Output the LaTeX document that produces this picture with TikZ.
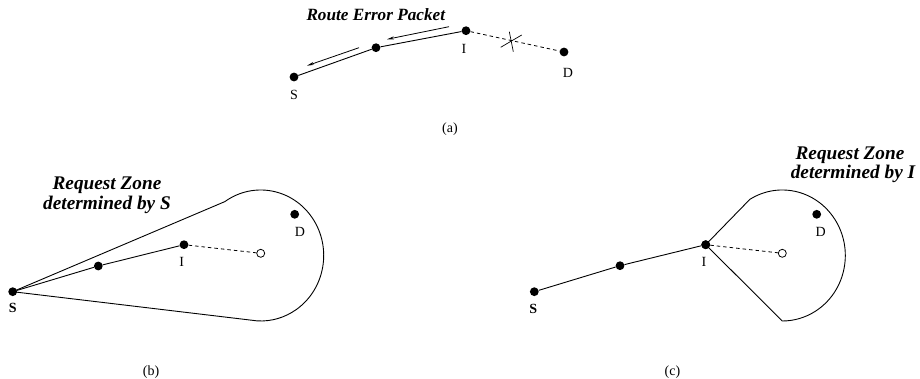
\documentclass[tikz,border=0pt]{standalone}
\usepackage{fontspec}
\setmainfont{Liberation Serif}
\usetikzlibrary{calc,arrows.meta}
\tikzset{
  dot/.style={circle,fill=black,inner sep=0pt,minimum size=8.8pt},
  hollow/.style={circle,draw=black,fill=white,line width=0.8pt,inner sep=0pt,minimum size=8pt},
  lbl/.style={anchor=base,inner sep=0pt,font=\fontsize{14}{16}\selectfont},
  blbl/.style={anchor=base,inner sep=0pt,font=\fontsize{14}{16}\selectfont\bfseries},
  title/.style={anchor=base,inner sep=0pt,font=\fontsize{17.2}{20}\selectfont\bfseries\itshape},
  ztitle/.style={anchor=base,inner sep=0pt,font=\fontsize{19.3}{20}\selectfont\bfseries\itshape},
  link/.style={line width=0.9pt},
  brk/.style={line width=0.8pt,dash pattern=on 3.5pt off 3pt},
  msg/.style={line width=0.8pt,-{Stealth[length=7pt,width=3pt]}},
  zone/.style={line width=0.9pt}
}
\begin{document}
\begin{tikzpicture}[x=1pt,y=1pt]
\useasboundingbox (0,0) rectangle (920,379);
% ---------- (a) ----------
\node[dot] (Sa) at (294,302) {};
\node[dot] (Ma) at (376,331.3) {};
\node[dot] (Ia) at (466,348.3) {};
\node[dot] (Da) at (564,327) {};
\draw[link] (Sa) -- (Ma) -- (Ia);
\draw[brk] (Ia) -- (Da);
\coordinate (x1) at (500.7,331.7);
\coordinate (x2) at (521.7,344);
\coordinate (x3) at (509.3,347.3);
\coordinate (x4) at (513.3,327.3);
\draw[line width=0.7pt] (x1) -- (x2);
\draw[line width=0.7pt] (x3) -- (x4);
\coordinate (a1s) at (449,352.3);
\coordinate (a1e) at (387,339.7);
\coordinate (a2s) at (359,331.3);
\coordinate (a2e) at (307,313.3);
\draw[msg] (a1s) -- (a1e);
\draw[msg] (a2s) -- (a2e);
\node[title] (rep) at (375.8,358.3) {Route Error Packet};
\node[lbl] (Sal) at (294,279) {S};
\node[lbl] (Ial) at (464,325.7) {I};
\node[lbl] (Dal) at (568,301.7) {D};
\node[lbl,anchor=center] (capa) at (450,250) {(a)};
% ---------- (b) ----------
\coordinate (Eb) at (260.7,123.5);
\draw[zone] (12.7,87.3) -- ($(Eb)+(124.6:63 and 65.5)$) arc[start angle=124.6,end angle=-93,x radius=63,y radius=65.5] -- cycle;
\node[dot] (Sb) at (12.7,87.3) {};
\node[dot] (Mb) at (98.3,113) {};
\node[dot] (Ib) at (184,134.3) {};
\node[hollow] (Hb) at (260.7,125.7) {};
\node[dot] (Db) at (294.7,164.7) {};
\draw[link] (Sb) -- (Mb) -- (Ib);
\draw[brk] (Ib) -- (Hb);
\node[blbl] (Sbl) at (12.7,66) {S};
\node[lbl] (Ibl) at (181.7,112.3) {I};
\node[lbl] (Dbl) at (300,142.3) {D};
\node[ztitle] (zb1) at (107,189.7) {Request Zone};
\node[ztitle] (zb2) at (107,169.7) {determined by S};
\node[lbl,anchor=center] (capb) at (151,7) {(b)};
% ---------- (c) ----------
\coordinate (Ec) at (782.3,123.5);
\node[dot] (Sc) at (534.3,87.3) {};
\node[dot] (Mc) at (620,113.3) {};
\node[dot] (Ic) at (705.7,134.3) {};
\node[hollow] (Hc) at (782.3,125.7) {};
\node[dot] (Dc) at (816.7,164.7) {};
\draw[zone] (Ic.center) -- ($(Ec)+(121:63 and 65.5)$) arc[start angle=121,end angle=-90,x radius=63,y radius=65.5] -- (Ic.center);
\node[dot] at (Ic) {};
\draw[link] (Sc) -- (Mc) -- (Ic);
\draw[brk] (Ic) -- (Hc);
\node[blbl] (Scl) at (533.3,65.7) {S};
\node[lbl] (Icl) at (704,112.3) {I};
\node[lbl] (Dcl) at (820.7,142.3) {D};
\node[ztitle] (zc1) at (850,219.7) {Request Zone};
\node[ztitle] (zc2) at (853,200) {determined by I};
\node[lbl,anchor=center] (capc) at (672.5,7) {(c)};
\end{tikzpicture}
\end{document}
